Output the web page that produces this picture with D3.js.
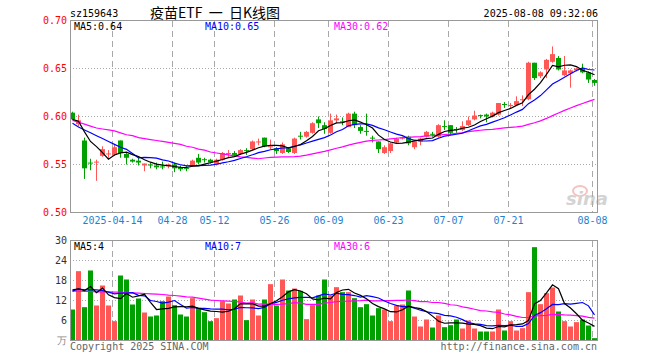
<!DOCTYPE html>
<html>
<head>
<meta charset="utf-8">
<script src="https://cdn.jsdelivr.net/npm/d3@7/dist/d3.min.js"></script>
<style>
body { margin: 0; background: #fff; }
svg { display: block; font-family: "DejaVu Sans Mono", "Liberation Mono", monospace; font-size: 10px; }
</style>
</head>
<body>
<svg id="chart" width="660" height="360"></svg>
<script>
// trading days shown (2025-04-02 .. 2025-08-08)
var dates = ["2025-04-02","2025-04-03","2025-04-07","2025-04-08","2025-04-09","2025-04-10","2025-04-11","2025-04-14","2025-04-15","2025-04-16",
  "2025-04-17","2025-04-18","2025-04-21","2025-04-22","2025-04-23","2025-04-24","2025-04-25","2025-04-28","2025-04-29","2025-04-30",
  "2025-05-06","2025-05-07","2025-05-08","2025-05-09","2025-05-12","2025-05-13","2025-05-14","2025-05-15","2025-05-16","2025-05-19",
  "2025-05-20","2025-05-21","2025-05-22","2025-05-23","2025-05-26","2025-05-27","2025-05-28","2025-05-29","2025-05-30","2025-06-03",
  "2025-06-04","2025-06-05","2025-06-06","2025-06-09","2025-06-10","2025-06-11","2025-06-12","2025-06-13","2025-06-16","2025-06-17",
  "2025-06-18","2025-06-19","2025-06-20","2025-06-23","2025-06-24","2025-06-25","2025-06-26","2025-06-27","2025-06-30","2025-07-01",
  "2025-07-02","2025-07-03","2025-07-04","2025-07-07","2025-07-08","2025-07-09","2025-07-10","2025-07-11","2025-07-14","2025-07-15",
  "2025-07-16","2025-07-17","2025-07-18","2025-07-21","2025-07-22","2025-07-23","2025-07-24","2025-07-25","2025-07-28","2025-07-29",
  "2025-07-30","2025-07-31","2025-08-01","2025-08-04","2025-08-05","2025-08-06","2025-08-07","2025-08-08"];

var openP = [0.604,0.592,0.575,0.552,0.552,0.559,0.561,0.560,0.575,0.561,
  0.555,0.554,0.549,0.550,0.549,0.548,0.548,0.550,0.547,0.5465,
  0.548,0.557,0.5555,0.555,0.550,0.555,0.561,0.562,0.561,0.565,
  0.566,0.573,0.578,0.568,0.567,0.562,0.567,0.562,0.580,0.579,
  0.583,0.597,0.591,0.583,0.596,0.595,0.589,0.603,0.589,0.585,
  0.578,0.574,0.562,0.564,0.573,0.577,0.579,0.568,0.574,0.579,
  0.582,0.579,0.590,0.591,0.587,0.586,0.591,0.597,0.6015,0.602,
  0.600,0.602,0.613,0.611,0.612,0.617,0.618,0.656,0.642,0.649,
  0.657,0.661,0.643,0.645,0.648,0.650,0.646,0.638];
var highP = [0.605,0.602,0.578,0.556,0.555,0.569,0.565,0.571,0.575,0.562,
  0.556,0.557,0.551,0.552,0.552,0.553,0.551,0.552,0.549,0.549,
  0.555,0.561,0.557,0.556,0.556,0.563,0.565,0.564,0.566,0.567,
  0.575,0.577,0.578,0.576,0.568,0.573,0.568,0.578,0.584,0.585,
  0.594,0.600,0.594,0.603,0.602,0.599,0.604,0.605,0.591,0.603,
  0.580,0.574,0.570,0.573,0.578,0.579,0.580,0.574,0.578,0.585,
  0.584,0.592,0.596,0.591,0.589,0.595,0.600,0.606,0.602,0.603,
  0.605,0.614,0.615,0.614,0.621,0.622,0.657,0.656,0.647,0.660,
  0.673,0.663,0.663,0.649,0.651,0.655,0.647,0.639];
var lowP = [0.597,0.590,0.535,0.544,0.533,0.558,0.557,0.559,0.557,0.550,
  0.552,0.549,0.543,0.546,0.545,0.545,0.546,0.542,0.543,0.543,
  0.548,0.550,0.552,0.551,0.549,0.554,0.557,0.558,0.560,0.560,
  0.565,0.570,0.568,0.566,0.561,0.561,0.562,0.561,0.576,0.578,
  0.582,0.588,0.582,0.582,0.593,0.591,0.589,0.588,0.582,0.580,
  0.573,0.562,0.561,0.562,0.572,0.576,0.570,0.566,0.570,0.578,
  0.579,0.578,0.586,0.581,0.583,0.585,0.590,0.596,0.598,0.594,
  0.599,0.601,0.609,0.608,0.611,0.611,0.617,0.638,0.640,0.640,
  0.656,0.648,0.642,0.630,0.647,0.645,0.635,0.632];
var closeP = [0.597,0.596,0.546,0.551,0.553,0.566,0.5615,0.568,0.562,0.557,
  0.553,0.552,0.551,0.549,0.547,0.5475,0.550,0.546,0.545,0.546,
  0.554,0.552,0.555,0.552,0.555,0.562,0.562,0.560,0.565,0.564,
  0.574,0.574,0.569,0.569,0.564,0.571,0.563,0.577,0.579,0.584,
  0.593,0.593,0.587,0.596,0.598,0.594,0.603,0.591,0.585,0.584,
  0.577,0.566,0.568,0.572,0.577,0.578,0.572,0.574,0.577,0.584,
  0.581,0.591,0.589,0.583,0.586,0.590,0.596,0.601,0.601,0.600,
  0.604,0.614,0.612,0.612,0.616,0.618,0.656,0.640,0.646,0.659,
  0.665,0.649,0.648,0.648,0.650,0.646,0.6385,0.635];
// volume, 万手
var volume = [9.3,20.8,10.0,21.0,10.5,16.5,10.5,5.8,19.5,18.3,
  10.8,12.6,8.4,7.2,7.5,11.8,13.2,10.6,7.8,7.2,
  12.7,9.8,8.5,5.8,6.7,11.8,11.1,12.3,13.5,6.1,
  12.3,7.5,12.3,16.9,10.5,18.3,15.0,15.6,14.9,6.4,
  10.6,13.5,18.3,13.5,16.0,14.5,14.5,12.7,10.0,10.9,
  7.5,9.7,9.3,5.8,10.5,10.8,15.0,7.2,4.2,6.3,
  3.9,7.5,4.0,4.6,6.3,3.6,6.0,3.6,2.7,2.7,
  2.7,9.3,3.0,5.8,3.0,3.7,14.5,28.0,10.9,14.2,
  15.9,8.7,5.8,4.2,5.5,6.3,4.5,0.7];

var ma5Head = [0.597,0.595,0.584,0.574];
var ma10Head = [0.593,0.589,0.586,0.583,0.580,0.577,0.574,0.571,0.568];
var ma30Head = [0.596,0.594,0.592,0.590,0.588,0.587,0.586,0.585,0.583,0.581,
  0.580,0.578,0.577,0.576,0.575,0.574,0.573,0.572,0.571,0.569,
  0.568,0.566,0.565,0.563,0.562,0.561,0.560,0.559,0.558];
var vma5Head = [15.2,15.5,15.0,16.2];
var vma10Head = [14.8,15.5,15.2,15.2,15.2,15.0,14.5,14.0,14.2];
var vma30Head = [14.8,14.8,14.7,14.7,14.6,14.6,14.6,14.5,14.5,14.4,
  14.3,14.2,14.1,14.0,13.9,13.8,13.6,13.5,13.3,13.1,
  13.0,12.7,12.4,12.1,12.0,11.9,11.8,11.7,11.5];

var priceTicks = [0.50, 0.55, 0.60, 0.65, 0.70];
var volTicks = [0, 6, 12, 18, 24, 30];
var dateTicks = ["2025-04-14","2025-04-28","2025-05-12","2025-05-26","2025-06-09","2025-06-23","2025-07-07","2025-07-21","2025-08-08"];
var maLabels = ["MA5:0.64", "MA10:0.65", "MA30:0.62"];
var volMaLabels = ["MA5:4", "MA10:7", "MA30:6"];

var RED = "#ff5656", GREEN = "#00a000";
var maColors = ["#000000", "#0000ff", "#ff00ff"];

var svg = d3.select("#chart");

//*** scales ***//
var x = d3.scaleBand().domain(dates).range([69.5, 597.5]);
var y = d3.scaleLinear().domain([0.5, 0.7]).range([212.5, 20.5]);
var yv = d3.scaleLinear().domain([0, 30]).range([340.5, 240.5]);

function cx(d) { return x(d) + 3; }

function movingAvg(arr, n, head) {
  return arr.map(function (v, i) {
    if (i < n - 1) return head[i];
    return d3.mean(arr.slice(i - n + 1, i + 1));
  });
}

//*** header ***//
svg.append("text").attr("x", 70).attr("y", 17).text("sz159643");
svg.append("text").attr("x", 150).attr("y", 18)
  .style("font-family", "'Noto Sans CJK SC', sans-serif").style("font-size", "14px")
  .style("white-space", "pre")
  .text("疫苗ETF  一  日K线图");
svg.append("text").attr("x", 598).attr("y", 17).attr("text-anchor", "end").text("2025-08-08 09:32:06");

//*** grid ***//
function drawGrid(yScale, hTicks, top, bottom) {
  svg.append("g").selectAll("line").data(hTicks).enter().append("line")
    .attr("x1", 70).attr("x2", 597)
    .attr("y1", function (d) { return yScale(d); })
    .attr("y2", function (d) { return yScale(d); })
    .attr("stroke", "#a8a8a8").attr("stroke-dasharray", "1,2");
  svg.append("g").selectAll("line").data(dateTicks).enter().append("line")
    .attr("x1", function (d) { return x(d) + 1; })
    .attr("x2", function (d) { return x(d) + 1; })
    .attr("y1", top).attr("y2", bottom)
    .attr("stroke", "#a8a8a8").attr("stroke-dasharray", "6,4");
}
drawGrid(y, [0.55, 0.60, 0.65], 21, 212);
drawGrid(yv, [6, 12, 18, 24], 241, 340);

// sina watermark
var mark = svg.append("g").attr("opacity", 0.55);
mark.append("ellipse").attr("cx", 580).attr("cy", 191).attr("rx", 7).attr("ry", 5)
  .attr("fill", "none").attr("stroke", "#f09090").attr("stroke-width", 2);
mark.append("text").attr("x", 566).attr("y", 205)
  .style("font-family", "'DejaVu Sans', sans-serif").style("font-size", "18px")
  .style("font-weight", "bold").style("font-style", "italic")
  .attr("fill", "#b0b0b0").text("sina");

//*** candles ***//
var idx = d3.range(dates.length);
function isUp(i) { return closeP[i] >= openP[i]; }

var candles = svg.append("g").selectAll("g").data(idx).enter().append("g");
candles.append("line")
  .attr("x1", function (i) { return cx(dates[i]); })
  .attr("x2", function (i) { return cx(dates[i]); })
  .attr("y1", function (i) { return y(highP[i]); })
  .attr("y2", function (i) { return y(lowP[i]); })
  .attr("stroke", function (i) { return isUp(i) ? RED : GREEN; });
candles.append("rect")
  .attr("x", function (i) { return x(dates[i]) + 0.5; })
  .attr("width", 5)
  .attr("y", function (i) { return y(Math.max(openP[i], closeP[i])); })
  .attr("height", function (i) { return Math.max(1, Math.abs(y(openP[i]) - y(closeP[i]))); })
  .attr("fill", function (i) { return isUp(i) ? RED : GREEN; });

//*** volume bars ***//
svg.append("g").selectAll("rect").data(idx).enter().append("rect")
  .attr("x", function (i) { return x(dates[i]) + 0.5; })
  .attr("width", 5)
  .attr("y", function (i) { return yv(volume[i]); })
  .attr("height", function (i) { return yv(0) - yv(volume[i]); })
  .attr("fill", function (i) { return isUp(i) ? RED : GREEN; });

//*** moving average lines ***//
var priceMa = [movingAvg(closeP, 5, ma5Head), movingAvg(closeP, 10, ma10Head), movingAvg(closeP, 30, ma30Head)];
var volMa = [movingAvg(volume, 5, vma5Head), movingAvg(volume, 10, vma10Head), movingAvg(volume, 30, vma30Head)];

function drawLines(series, yScale) {
  var line = d3.line()
    .x(function (v, i) { return cx(dates[i]); })
    .y(function (v) { return yScale(v); });
  // MA30 first so MA5 ends up on top
  [2, 1, 0].forEach(function (k) {
    svg.append("path").datum(series[k]).attr("d", line)
      .attr("fill", "none").attr("stroke", maColors[k]).attr("stroke-width", 1.2);
  });
}
drawLines(priceMa, y);
drawLines(volMa, yv);

//*** frames ***//
svg.append("rect").attr("x", 70.5).attr("y", 20.5).attr("width", 527).attr("height", 192)
  .attr("fill", "none").attr("stroke", "#999");
svg.append("rect").attr("x", 70.5).attr("y", 240.5).attr("width", 527).attr("height", 100)
  .attr("fill", "none").attr("stroke", "#999");

//*** axes labels ***//
var yAxis = svg.append("g").attr("transform", "translate(70,0)")
  .call(d3.axisLeft(y).tickValues(priceTicks).tickFormat(d3.format(".2f")).tickSize(0).tickPadding(3));
yAxis.select(".domain").remove();
yAxis.selectAll("text").attr("fill", "#ff0000");

var vAxis = svg.append("g").attr("transform", "translate(70,0)")
  .call(d3.axisLeft(yv).tickValues(volTicks).tickFormat(function (d) { return d === 0 ? "万" : d; }).tickSize(0).tickPadding(3));
vAxis.select(".domain").remove();
vAxis.selectAll("text").attr("fill", function (d) { return d === 0 ? "#888" : "#333"; });

var xAxis = svg.append("g").attr("transform", "translate(1,213)")
  .call(d3.axisBottom(x).tickValues(dateTicks)
    .tickFormat(function (d, i) { return i === 0 ? d : d.slice(5); }).tickSize(0).tickPadding(4));
xAxis.select(".domain").remove();
xAxis.selectAll(".tick").attr("transform", function (d) { return "translate(" + (x(d)) + ",0)"; });
xAxis.selectAll("text").attr("fill", "#1e82d2");
svg.selectAll("g").attr("font-family", null).attr("font-size", null);

//*** legends ***//
var legendX = [74, 205, 334];
maLabels.forEach(function (t, k) {
  svg.append("text").attr("x", legendX[k]).attr("y", 30).attr("fill", maColors[k]).text(t);
});
volMaLabels.forEach(function (t, k) {
  svg.append("text").attr("x", legendX[k]).attr("y", 250).attr("fill", maColors[k]).text(t);
});

//*** footer ***//
svg.append("text").attr("x", 70).attr("y", 350).attr("fill", "#666").text("Copyright 2025 SINA.COM");
svg.append("text").attr("x", 597).attr("y", 350).attr("text-anchor", "end").attr("fill", "#666").text("http://finance.sina.com.cn");
</script>
</body>
</html>
